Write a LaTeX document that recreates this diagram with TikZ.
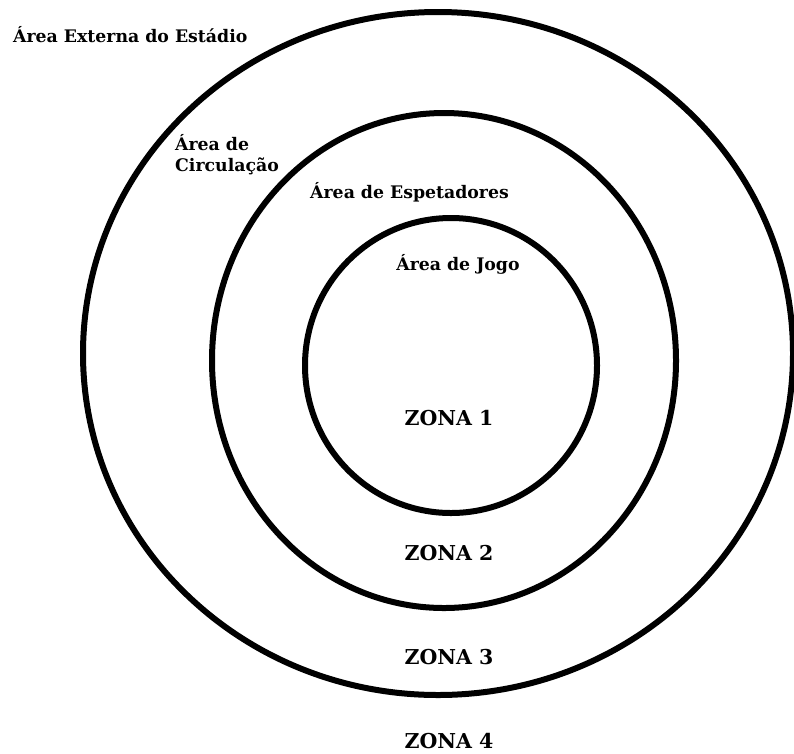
\documentclass[tikz,border=0pt]{standalone}
\usepackage{fontspec}
\setmainfont{DejaVu Serif}
\usepackage{tikz}
\usetikzlibrary{positioning}

\tikzset{
    ring/.style={line width=6pt},
    arealabel/.style={font=\fontsize{17.3}{21}\selectfont\bfseries, inner sep=0pt, align=left},
    zonelabel/.style={font=\fontsize{20.5}{24}\selectfont\bfseries, inner sep=0pt}
}

\begin{document}
\begin{tikzpicture}[x=1pt,y=-1pt]
    \useasboundingbox (0,0) rectangle (794,753);

    % Rings
    \draw[ring] (438,353.5) ellipse (355 and 341.5);
    \draw[ring] (444,360.5) ellipse (232 and 247.5);
    \draw[ring] (451,365.5) ellipse (146 and 147.5);

    % Area labels
    \node[arealabel,anchor=west] (externa) at (13,35) {Área Externa do Estádio};
    \node[arealabel,anchor=west] (circulacao) at (175,155) {Área de\\Circulação};
    \node[arealabel,anchor=west] (espetadores) at (310,192) {Área de Espetadores};
    \node[arealabel] (jogo) at (458,264) {Área de Jogo};

    % Zones
    \node[zonelabel] (zona1) at (449,418) {ZONA 1};
    \node[zonelabel] (zona2) at (449,553) {ZONA 2};
    \node[zonelabel] (zona3) at (449,657) {ZONA 3};
    \node[zonelabel] (zona4) at (449,741) {ZONA 4};
\end{tikzpicture}
\end{document}
